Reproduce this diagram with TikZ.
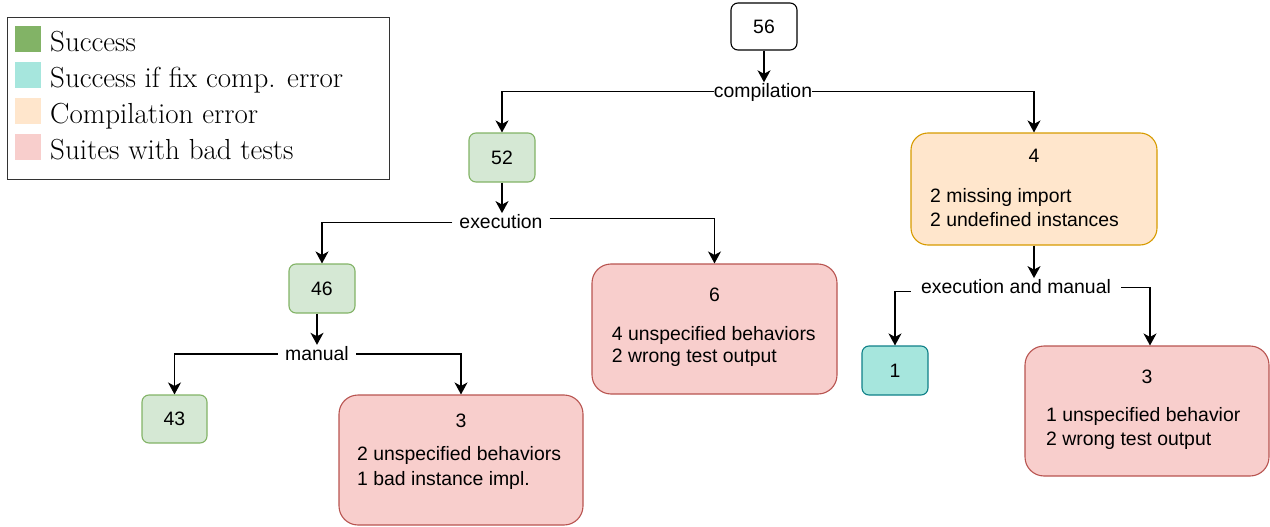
\documentclass[tikz,border=0pt]{standalone}
\usepackage{fontspec}
\newfontfamily\arialf{Liberation Sans}
\usetikzlibrary{arrows.meta}
\definecolor{gfill}{HTML}{D5E8D4}
\definecolor{gline}{HTML}{82B366}
\definecolor{cfill}{HTML}{A6E6DD}
\definecolor{cline}{HTML}{0E8088}
\definecolor{ofill}{HTML}{FFE6CC}
\definecolor{oline}{HTML}{D79B00}
\definecolor{rfill}{HTML}{F8CECC}
\definecolor{rline}{HTML}{B85450}
\definecolor{legline}{HTML}{333333}
\begin{document}
\begin{tikzpicture}[x=1pt,y=-1pt,
  af/.style={font=\arialf\fontsize{19.4}{23}\selectfont},
  box/.style={af, draw, line width=1.1pt, rounded corners=7pt, minimum width=66pt, minimum height=49pt, inner sep=0pt},
  bigbox/.style={box, minimum width=245pt, minimum height=130pt, rounded corners=19pt},
  okbox/.style={box, fill=gfill, draw=gline},
  badbox/.style={bigbox, fill=rfill, draw=rline},
  lbl/.style={af, fill=white, inner ysep=0pt, inner xsep=7pt, text height=15pt, text depth=3pt},
  txt/.style={af, anchor=base west, inner sep=0pt},
  num/.style={af, anchor=base, inner sep=0pt},
  arr/.style={line width=1.3pt, -{Stealth[length=12pt,width=13pt,inset=3.5pt]}},
  sq/.style={minimum size=26pt, inner sep=0pt},
  legtxt/.style={anchor=base west, inner sep=0pt, font=\fontsize{29}{35}\selectfont}
]
\useasboundingbox (0,0) rectangle (1270,527);

% legend
\node[draw=legline, line width=1pt, minimum width=382pt, minimum height=162pt, anchor=north west, inner sep=0pt] (legend) at (7,17) {};
\node[sq, fill=gline] (s1) at (28,39) {};
\node[sq, fill=cfill] (s2) at (28,75) {};
\node[sq, fill=ofill] (s3) at (28,111) {};
\node[sq, fill=rfill] (s4) at (28,147) {};
\node[legtxt] (l1) at (50,51.7) {Success};
\node[legtxt] (l2) at (50,87.7) {Success if fix comp. error};
\node[legtxt] (l3) at (50,123.7) {Compilation error};
\node[legtxt] (l4) at (50,159.7) {Suites with bad tests};

% nodes
\node[box, fill=white, minimum height=47pt] (n56) at (764,26.5) {56};
\node[okbox] (n52) at (502,157.5) {52};
\node[okbox] (n46) at (322,288.5) {46};
\node[okbox, minimum width=65pt, minimum height=48pt] (n43) at (174.5,419) {43};
\node[box, fill=cfill, draw=cline] (n1) at (895,370.5) {1};

\node[bigbox, fill=ofill, draw=oline, minimum width=246pt, minimum height=112pt, rounded corners=17pt] (n4) at (1034,189) {};
\node[num] (t4a) at (1034,162.3) {4};
\node[txt] (t4b) at (930,202) {2 missing import};
\node[txt] (t4c) at (930,226.3) {2 undefined instances};

\node[badbox] (n6) at (714.5,329) {};
\node[num] (t6a) at (714.5,301.7) {6};
\node[txt] (t6b) at (611.7,340) {4 unspecified behaviors};
\node[txt] (t6c) at (611.7,362.5) {2 wrong test output};

\node[badbox, minimum width=244pt] (n3l) at (461,460) {};
\node[num] (t3la) at (461,427.3) {3};
\node[txt] (t3lb) at (357,460.7) {2 unspecified behaviors};
\node[txt] (t3lc) at (357,485.7) {1 bad instance impl.};

\node[badbox, minimum width=244pt] (n3r) at (1147,411) {};
\node[num] (t3ra) at (1147,383.3) {3};
\node[txt] (t3rb) at (1046,421.7) {1 unspecified behavior};
\node[txt] (t3rc) at (1046,445) {2 wrong test output};

% labels
\node[lbl, inner xsep=0pt] (lc) at (763,91.5) {compilation};
\node[lbl] (le) at (501,222.3) {execution};
\node[lbl] (lm) at (317,354) {manual};
\node[lbl, inner xsep=10pt] (lem) at (1016,287.3) {execution and manual};

% connectors
\draw[arr] (n56.south) -- (n56.south |- lc.north);
\draw[arr] (lc.west) -| (n52.north);
\draw[arr] (lc.east) -| (n4.north);
\draw[arr] (n52.south) -- (n52.south |- le.north);
\draw[arr] (le.west) -| (n46.north);
\draw[arr] ([yshift=4pt]le.east) -| (n6.north);
\draw[arr] (n46.south -| lm.north) -- (lm.north);
\draw[arr] (lm.west) -| (n43.north);
\draw[arr] (lm.east) -| (n3l.north);
\draw[arr] (n4.south) -- (n4.south |- lem.north);
\draw[arr] ([yshift=-4pt]lem.west) -| (n1.north);
\draw[arr] (lem.east) -| ([xshift=3pt]n3r.north);
\end{tikzpicture}
\end{document}
